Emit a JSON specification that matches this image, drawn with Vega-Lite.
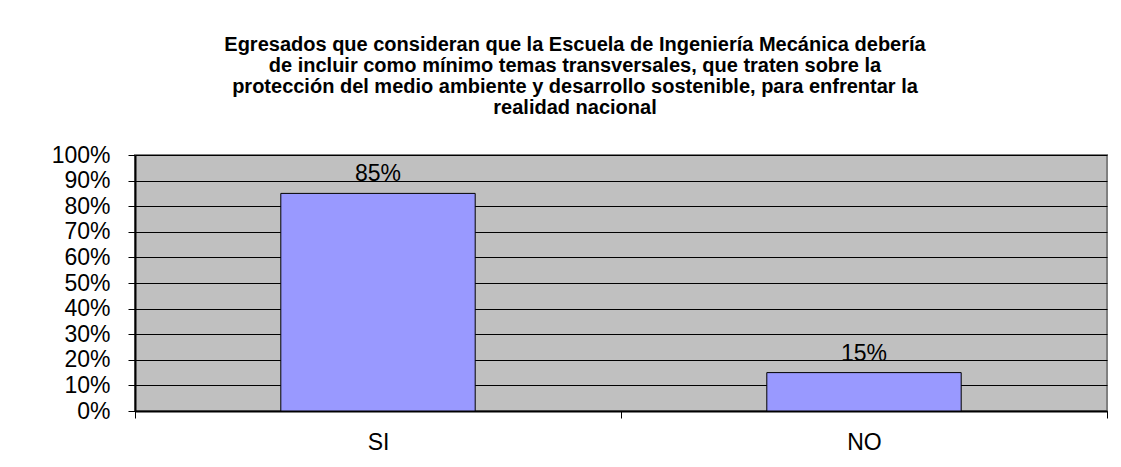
{
  "$schema": "https://vega.github.io/schema/vega-lite/v6.json",
  "width": 972,
  "height": 256,
  "autosize": {"type": "none"},
  "padding": {"left": 135, "top": 155, "right": 14, "bottom": 56},
  "background": "white",
  "config": {
    "font": "Liberation Sans",
    "view": {"fill": "#C0C0C0", "stroke": "#808080", "strokeWidth": 2}
  },
  "title": {
    "text": [
      "Egresados que consideran que la Escuela de Ingeniería Mecánica debería",
      "de incluir como mínimo temas transversales, que traten sobre la",
      "protección del medio ambiente y desarrollo sostenible, para enfrentar la",
      "realidad nacional"
    ],
    "font": "Liberation Sans",
    "fontSize": 20,
    "fontWeight": "bold",
    "lineHeight": 21,
    "anchor": "middle",
    "frame": "group",
    "dx": -46,
    "offset": 26,
    "color": "black"
  },
  "data": {
    "values": [
      {"respuesta": "SI", "porcentaje": 0.85, "etiqueta": "85%"},
      {"respuesta": "NO", "porcentaje": 0.15, "etiqueta": "15%"}
    ]
  },
  "encoding": {
    "x": {
      "field": "respuesta",
      "type": "nominal",
      "sort": ["SI", "NO"],
      "scale": {"paddingInner": 0, "paddingOuter": 0},
      "axis": {
        "title": null,
        "labelAngle": 0,
        "labelFontSize": 23,
        "labelColor": "black",
        "labelPadding": 13,
        "tickBand": "extent",
        "tickColor": "black",
        "tickSize": 7,
        "tickWidth": 1,
        "domainColor": "black",
        "domainWidth": 2,
        "grid": false
      }
    },
    "y": {
      "field": "porcentaje",
      "type": "quantitative",
      "scale": {"domain": [0, 1], "nice": false},
      "axis": {
        "title": null,
        "values": [0, 0.1, 0.2, 0.3, 0.4, 0.5, 0.6, 0.7, 0.8, 0.9, 1],
        "format": ".0%",
        "labelFontSize": 23,
        "labelColor": "black",
        "labelPadding": 18,
        "tickColor": "black",
        "tickSize": 7,
        "domainColor": "black",
        "domainWidth": 2,
        "grid": true,
        "gridColor": "black",
        "gridWidth": 1,
        "gridOpacity": 1
      }
    }
  },
  "layer": [
    {
      "mark": {"type": "bar", "width": {"band": 0.4}, "fill": "#9999FF", "stroke": "black", "strokeWidth": 1}
    },
    {
      "mark": {"type": "text", "baseline": "bottom", "dy": -7, "fontSize": 23, "color": "black"},
      "encoding": {"text": {"field": "etiqueta"}}
    }
  ]
}
